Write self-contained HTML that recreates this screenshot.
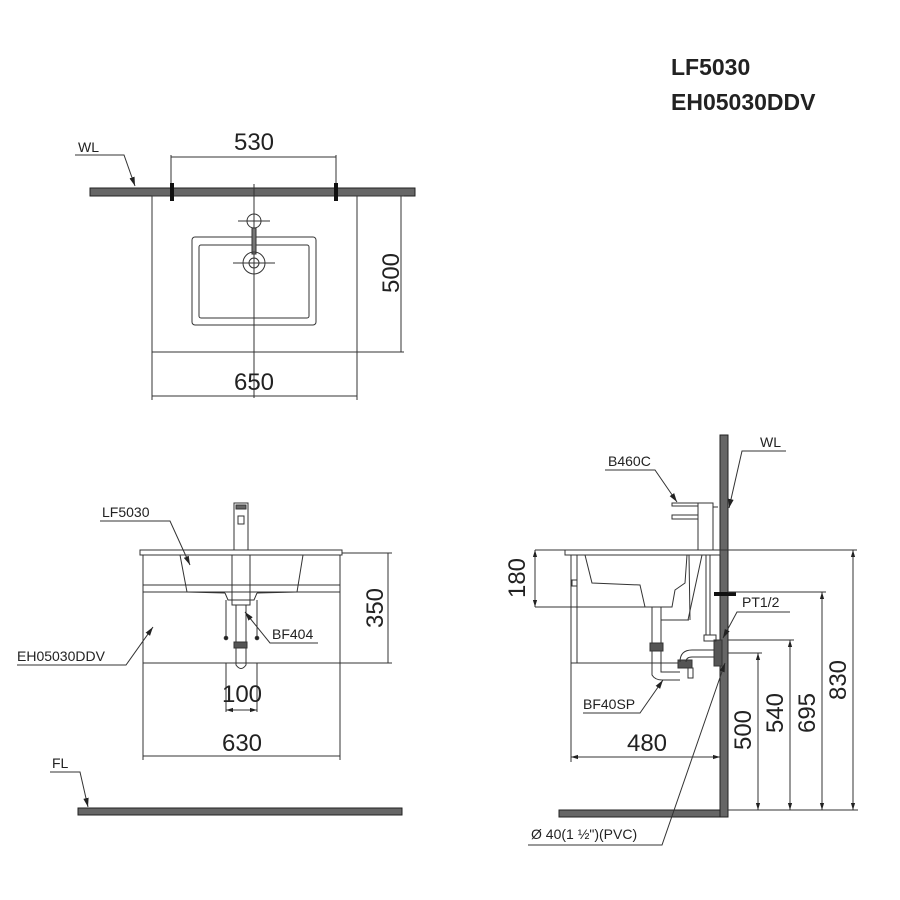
<!DOCTYPE html>
<html><head><meta charset="utf-8"><style>
html,body{margin:0;padding:0;background:#fff}
svg{display:block}
text{font-family:"Liberation Sans",sans-serif;fill:#222}
</style></head><body>
<svg width="900" height="900" viewBox="0 0 900 900" xmlns="http://www.w3.org/2000/svg">
<defs>
<marker id="a" viewBox="0 0 10 10" refX="10" refY="5" markerWidth="7" markerHeight="7" orient="auto-start-reverse"><path d="M0,2 L10,5 L0,8z" fill="#222"/></marker>
<marker id="b" viewBox="0 0 10 10" refX="10" refY="5" markerWidth="9" markerHeight="9" orient="auto"><path d="M0,2 L10,5 L0,8z" fill="#222"/></marker>
</defs>
<text x="671" y="75" font-size="23" font-weight="bold" fill="#111">LF5030</text>
<text x="671" y="110" font-size="23" font-weight="bold" fill="#111">EH05030DDV</text>

<!-- TOP VIEW -->
<g stroke="#333" fill="none" stroke-width="1">
<rect x="90" y="188" width="325" height="8" fill="#666" stroke="#222"/>
<rect x="152" y="196" width="205" height="156"/>
<rect x="192" y="237" width="124" height="88" rx="3"/>
<rect x="199" y="245" width="110" height="73" rx="2"/>
<line x1="254" y1="184" x2="254" y2="398"/>
<circle cx="254" cy="221" r="7"/>
<line x1="238" y1="221" x2="270" y2="221"/>
<rect x="252" y="228" width="4" height="26" fill="#777"/>
<circle cx="254" cy="263" r="11"/>
<circle cx="254" cy="263" r="5"/>
<line x1="233" y1="263" x2="275" y2="263"/>
<rect x="170" y="183" width="4" height="18" fill="#111" stroke="none"/>
<rect x="334" y="183" width="4" height="18" fill="#111" stroke="none"/>
<line x1="171" y1="157" x2="336" y2="157"/>
<line x1="171" y1="155" x2="171" y2="183"/>
<line x1="336" y1="155" x2="336" y2="183"/>
<line x1="152" y1="352" x2="152" y2="400"/>
<line x1="357" y1="196" x2="357" y2="400"/>
<line x1="152" y1="396" x2="357" y2="396"/>
<line x1="357" y1="196" x2="404" y2="196"/>
<line x1="357" y1="352" x2="404" y2="352"/>
<line x1="401" y1="196" x2="401" y2="352"/>
<polyline points="75,155 124,155 135,186" marker-end="url(#b)"/>
</g>
<text x="254" y="150" font-size="24" text-anchor="middle">530</text>
<text x="254" y="390" font-size="24" text-anchor="middle">650</text>
<text transform="translate(399,273) rotate(-90)" font-size="24" text-anchor="middle">500</text>
<text x="78" y="152" font-size="14">WL</text>

<!-- FRONT VIEW -->
<g stroke="#333" fill="none" stroke-width="1">
<rect x="140" y="550" width="202" height="5"/>
<rect x="143" y="555" width="197" height="108"/>
<line x1="143" y1="585" x2="340" y2="585"/>
<line x1="143" y1="592" x2="340" y2="592"/>
<polyline points="180,555 187,592 225,593"/>
<polyline points="303,555 297,592 257,593"/>
<polyline points="225,593 228,600 254,600 257,593"/>
<rect x="234" y="503" width="14" height="47"/>
<rect x="236" y="505" width="10" height="4" fill="#666"/>
<rect x="238" y="516" width="6" height="8"/>
<rect x="232" y="555" width="18" height="50"/>
<line x1="226" y1="600" x2="226" y2="638"/>
<line x1="257" y1="600" x2="257" y2="638"/>
<circle cx="226" cy="638" r="1.8" fill="#222"/>
<circle cx="257" cy="638" r="1.8" fill="#222"/>
<line x1="236" y1="605" x2="236" y2="643"/>
<line x1="246" y1="605" x2="246" y2="643"/>
<rect x="234" y="642" width="13" height="6" fill="#555"/>
<path d="M236,648 L236,665 Q241,672 246,665 L246,648"/>
<line x1="226" y1="663" x2="226" y2="712"/>
<line x1="257" y1="663" x2="257" y2="712"/>
<line x1="226" y1="710" x2="257" y2="710" marker-start="url(#a)" marker-end="url(#a)"/>
<line x1="143" y1="663" x2="143" y2="760"/>
<line x1="340" y1="663" x2="340" y2="760"/>
<line x1="143" y1="756" x2="340" y2="756"/>
<line x1="342" y1="553" x2="392" y2="553"/>
<line x1="340" y1="663" x2="392" y2="663"/>
<line x1="388" y1="553" x2="388" y2="663"/>
<rect x="78" y="808" width="324" height="7" fill="#666" stroke="#222"/>
<polyline points="50,772 80,772 88,807" marker-end="url(#b)"/>
<polyline points="100,521 170,521 190,565" marker-end="url(#b)"/>
<polyline points="318,643 270,643 245,612" marker-end="url(#b)"/>
<polyline points="17,665 126,665 153,627" marker-end="url(#b)"/>
</g>
<text x="242" y="702" font-size="24" text-anchor="middle">100</text>
<text x="242" y="751" font-size="24" text-anchor="middle">630</text>
<text transform="translate(383,608) rotate(-90)" font-size="24" text-anchor="middle">350</text>
<text x="52" y="768" font-size="14">FL</text>
<text x="102" y="517" font-size="14">LF5030</text>
<text x="272" y="639" font-size="14">BF404</text>
<text x="17" y="661" font-size="14">EH05030DDV</text>

<!-- SIDE VIEW -->
<g stroke="#333" fill="none" stroke-width="1">
<rect x="720" y="435" width="8" height="382" fill="#666" stroke="#222"/>
<rect x="559" y="810" width="161" height="7" fill="#666" stroke="#222"/>
<rect x="565" y="550" width="155" height="5"/>
<line x1="571" y1="555" x2="571" y2="663"/>
<line x1="577" y1="555" x2="577" y2="663"/>
<rect x="572" y="580" width="5" height="6"/>
<line x1="571" y1="663" x2="690" y2="663"/>
<path d="M585,555 L592,583 L640,585 L645,607 L672,607 L675,590 L685,583 L687,555"/>
<rect x="652" y="607" width="9" height="40"/>
<line x1="661" y1="620" x2="689" y2="620"/>
<line x1="689" y1="555" x2="690" y2="620"/>
<line x1="702" y1="555" x2="688" y2="620"/>
<line x1="706" y1="555" x2="706" y2="635"/>
<line x1="710" y1="555" x2="710" y2="635"/>
<rect x="650" y="643" width="13" height="8" fill="#555"/>
<path d="M652,651 L652,675 Q655,680 662,680 L680,680 M661,651 L661,672 L680,672"/>
<rect x="678" y="660" width="14" height="8" fill="#555"/>
<path d="M680,662 Q680,650 692,650 L718,650 M686,662 Q686,657 692,657 L718,657"/>
<rect x="714" y="640" width="8" height="26" fill="#555"/>
<rect x="704" y="635" width="12" height="6"/>
<rect x="688" y="668" width="5" height="10"/>
<rect x="714" y="592" width="22" height="4" fill="#111" stroke="none"/>
<rect x="672" y="503" width="26" height="3"/>
<rect x="672" y="515" width="26" height="4"/>
<rect x="698" y="503" width="15" height="47"/>
<line x1="713" y1="507" x2="718" y2="507"/>
<line x1="535" y1="550" x2="565" y2="550"/>
<line x1="535" y1="607" x2="645" y2="607"/>
<line x1="535" y1="550" x2="535" y2="607" marker-start="url(#a)" marker-end="url(#a)"/>
<line x1="571" y1="663" x2="571" y2="762"/>
<line x1="571" y1="757" x2="720" y2="757" marker-start="url(#a)" marker-end="url(#a)"/>
<line x1="728" y1="810" x2="858" y2="810"/>
<line x1="728" y1="653" x2="762" y2="653"/>
<line x1="728" y1="640" x2="794" y2="640"/>
<line x1="728" y1="592" x2="826" y2="592"/>
<line x1="720" y1="550" x2="857" y2="550"/>
<line x1="758" y1="653" x2="758" y2="810" marker-start="url(#a)" marker-end="url(#a)"/>
<line x1="790" y1="640" x2="790" y2="810" marker-start="url(#a)" marker-end="url(#a)"/>
<line x1="822" y1="592" x2="822" y2="810" marker-start="url(#a)" marker-end="url(#a)"/>
<line x1="853" y1="550" x2="853" y2="810" marker-start="url(#a)" marker-end="url(#a)"/>
<polyline points="605,470 655,470 677,502" marker-end="url(#b)"/>
<polyline points="786,451 742,451 729,508" marker-end="url(#b)"/>
<polyline points="790,612 737,612 723,638" marker-end="url(#b)"/>
<polyline points="583,713 640,713 663,680" marker-end="url(#b)"/>
<polyline points="528,845 662,845 725,663" marker-end="url(#b)"/>
</g>
<text transform="translate(525,578) rotate(-90)" font-size="24" text-anchor="middle">180</text>
<text x="647" y="751" font-size="24" text-anchor="middle">480</text>
<text transform="translate(751,730) rotate(-90)" font-size="24" text-anchor="middle">500</text>
<text transform="translate(783,713) rotate(-90)" font-size="24" text-anchor="middle">540</text>
<text transform="translate(815,713) rotate(-90)" font-size="24" text-anchor="middle">695</text>
<text transform="translate(846,680) rotate(-90)" font-size="24" text-anchor="middle">830</text>
<text x="608" y="466" font-size="14">B460C</text>
<text x="760" y="447" font-size="14">WL</text>
<text x="742" y="607" font-size="14">PT1/2</text>
<text x="583" y="709" font-size="14">BF40SP</text>
<text x="531" y="839" font-size="14">Ø  40(1 ½")(PVC)</text>
</svg>
</body></html>
